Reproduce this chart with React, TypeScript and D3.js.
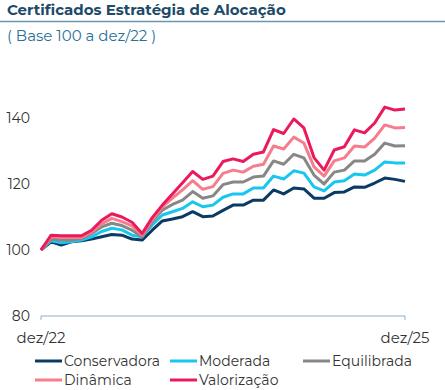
import React from 'react';
import * as d3 from 'd3';

const months = d3.range(37); // dez/22 .. dez/25, monthly
const xTickLabels = ['dez/22', 'dez/25'];
const yTicks = [80, 100, 120, 140];

const conservadora = [100, 102.5, 101.5, 102.5, 102.8, 103.3, 104, 104.7, 104.5, 103.3, 103, 106, 108.8, 109.4, 110.1, 111.6, 110.1, 110.3, 112, 113.6, 113.6, 115.1, 115.1, 118.2, 117, 118.8, 118.5, 115.7, 115.7, 117.4, 117.6, 119.1, 119, 120.3, 121.8, 121.4, 120.8];
const moderada = [100, 102.8, 102.2, 102.5, 103, 104, 105.6, 106.6, 106.1, 104.5, 104, 107.6, 110.6, 111.6, 112.6, 114.6, 113.1, 113.6, 116, 117, 117, 118.8, 118.8, 122.4, 121.5, 124, 123.3, 119.1, 117.9, 120.6, 121, 123, 122.7, 124.2, 126.7, 126.4, 126.4];
const equilibrada = [100, 103.3, 103, 103, 103.5, 105, 107, 108.1, 107.4, 106, 104, 108.6, 112.1, 113.8, 115.1, 117.7, 115.7, 116.4, 119.8, 120.6, 120.6, 122.1, 122.4, 127, 126, 129, 127.9, 122.7, 120, 123.6, 124.2, 127, 127, 129, 132.4, 131.5, 131.6];
const dinamica = [100, 104, 103.8, 103.8, 103.8, 105.4, 107.9, 109.6, 108.6, 107.3, 104.5, 109.1, 113.1, 115.7, 118.2, 121, 118.4, 119.2, 123.2, 124.2, 123.6, 125.4, 126, 131.5, 130.6, 134.2, 132.4, 125.2, 122.4, 127, 127.9, 131.5, 131.2, 133.9, 137.9, 137, 137.1];
const valorizacao = [100, 104.5, 104.3, 104.3, 104.3, 106, 109, 111, 110, 108.4, 105, 109.8, 113.6, 117, 120.4, 123.8, 121.4, 122.4, 126.8, 127.6, 126.8, 129, 129.7, 136.5, 135.3, 139.7, 137, 128, 124.2, 130.3, 131.3, 136.4, 135.5, 138.5, 143.3, 142.4, 142.7];

const seriesNames = ['Conservadora', 'Moderada', 'Equilibrada', 'Dinâmica', 'Valorização'];
const seriesValues = [conservadora, moderada, equilibrada, dinamica, valorizacao];
const seriesColors = ['#0b3a63', '#18c6f0', '#878787', '#f77c8c', '#ea1a5d'];

const W = 445;
const H = 390;
const font = 'Montserrat, "Open Sans", "DejaVu Sans", sans-serif';

export default function App() {
  const x = d3.scaleLinear().domain([0, 36]).range([41, 405]);
  const y = d3.scaleLinear().domain([80, 140]).range([316, 118]);
  const line = d3.line<number>().x((_, i) => x(months[i])).y(d => y(d));

  const legendPos = [
    [35, 361], [170, 361], [303, 361],
    [35, 380], [170, 380],
  ];

  return (
    <svg width={W} height={H} style={{ position: 'absolute', left: 0, top: 0 }} fontFamily={font}>
      <rect width={W} height={H} fill="#fff" />
      <text x={7} y={15} fontSize={15} fontWeight={700} fill="#1d4a68">Certificados Estratégia de Alocação</text>
      <line x1={0} x2={W} y1={21.5} y2={21.5} stroke="#6a95b3" strokeWidth={1.5} />
      <text x={7} y={41} fontSize={15} fill="#2a6f98">( Base 100 a dez/22 )</text>

      {yTicks.map(t => (
        <text key={t} x={30} y={y(t)} dy="0.35em" textAnchor="end" fontSize={14} fill="#333">{t}</text>
      ))}

      <path d={`M${x(0)},${y(80) + 4}V${y(80)}H${x(36)}V${y(80) + 4}`} fill="none" stroke="#8fb1c9" strokeWidth={1} />
      {xTickLabels.map((l, i) => (
        <text key={l} x={i === 0 ? x(0) : x(36)} y={343} textAnchor="middle" fontSize={15} fill="#333">{l}</text>
      ))}

      {seriesValues.map((vals, i) => (
        <path key={seriesNames[i]} d={line(vals) ?? ''} fill="none" stroke={seriesColors[i]} strokeWidth={3} strokeLinejoin="round" />
      ))}

      {seriesNames.map((n, i) => (
        <g key={n} transform={`translate(${legendPos[i][0]},${legendPos[i][1]})`}>
          <line x1={0} x2={27} y1={0} y2={0} stroke={seriesColors[i]} strokeWidth={3} />
          <text x={29} y={0} dy="0.35em" fontSize={14} fill="#333">{n}</text>
        </g>
      ))}
    </svg>
  );
}
